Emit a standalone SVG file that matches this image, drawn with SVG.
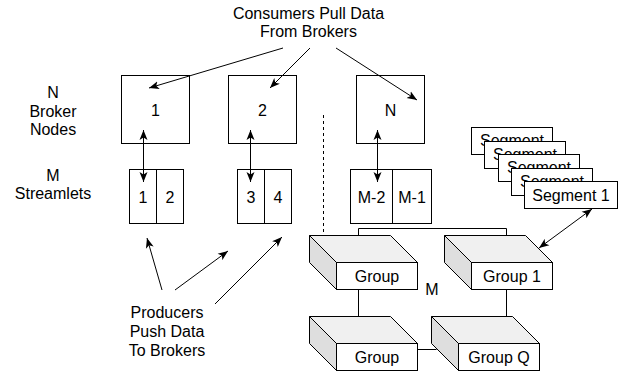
<svg xmlns="http://www.w3.org/2000/svg" width="629" height="375" viewBox="0 0 629 375">
<defs>
<marker id="arr" markerUnits="userSpaceOnUse" markerWidth="11" markerHeight="9" refX="10" refY="4.5" orient="auto-start-reverse">
<path d="M0,0.5 L10,4.5 L0,8.5 L2.5,4.5 Z" fill="#000"/>
</marker>
<style>
text{font-family:"Liberation Sans",Arial,sans-serif;font-size:16px;fill:#000;text-anchor:middle}
.box{fill:#fff;stroke:#000;stroke-width:1}
.ln{fill:none;stroke:#000;stroke-width:1}
.ar{fill:none;stroke:#000;stroke-width:1;marker-end:url(#arr)}
.dar{fill:none;stroke:#000;stroke-width:1;marker-end:url(#arr);marker-start:url(#arr)}
.top{fill:#f0f0f0;stroke:#000}
.side{fill:#dedede;stroke:#000}
</style>
</defs>
<rect width="629" height="375" fill="#fff"/>

<g id="label-consumers">
<text x="308.5" y="19">Consumers Pull Data</text>
<text x="308.5" y="37">From Brokers</text>
</g>
<g id="label-brokers">
<text x="53" y="98">N</text>
<text x="53" y="117">Broker</text>
<text x="53" y="135">Nodes</text>
</g>
<g id="label-streamlets">
<text x="53" y="181">M</text>
<text x="53" y="199">Streamlets</text>
</g>
<g id="label-producers">
<text x="167" y="318">Producers</text>
<text x="167" y="337">Push Data</text>
<text x="167" y="356">To Brokers</text>
</g>

<g id="broker-1">
<rect class="box" x="121.5" y="75.5" width="68" height="68"/>
<text x="155.5" y="116">1</text>
</g>
<g id="broker-2">
<rect class="box" x="228.5" y="75.5" width="68" height="68"/>
<text x="262.5" y="116">2</text>
</g>
<g id="broker-n">
<rect class="box" x="356.5" y="75.5" width="68" height="68"/>
<text x="390.5" y="116">N</text>
</g>

<g id="streamlets-1-2">
<rect class="box" x="129.5" y="169.5" width="54" height="54"/>
<line class="ln" x1="156.5" y1="169.5" x2="156.5" y2="223.5"/>
<text x="143" y="203">1</text>
<text x="170" y="203">2</text>
</g>
<g id="streamlets-3-4">
<rect class="box" x="237.5" y="169.5" width="54" height="54"/>
<line class="ln" x1="264.5" y1="169.5" x2="264.5" y2="223.5"/>
<text x="251" y="203">3</text>
<text x="278" y="203">4</text>
</g>
<g id="streamlets-m">
<rect class="box" x="350.5" y="169.5" width="81" height="54"/>
<line class="ln" x1="392.5" y1="169.5" x2="392.5" y2="223.5"/>
<text x="371.5" y="203">M-2</text>
<text x="412" y="203">M-1</text>
</g>

<g id="separator">
<line x1="323.5" y1="115" x2="323.5" y2="232" stroke="#000" stroke-width="1" stroke-dasharray="3,3"/>
</g>

<g id="segments">
<rect class="box" x="471.5" y="127.5" width="81" height="27"/>
<text x="512" y="146">Segment</text>
<rect class="box" x="484.5" y="141.5" width="81" height="27"/>
<text x="525" y="160">Segment</text>
<rect class="box" x="498.5" y="154.5" width="81" height="27"/>
<text x="539" y="173">Segment</text>
<rect class="box" x="511.5" y="168.5" width="81" height="27"/>
<text x="552" y="187">Segment</text>
<rect class="box" x="524.5" y="181.5" width="93" height="27"/>
<text x="571" y="201">Segment 1</text>
</g>

<g id="group-a">
<path class="top" d="M309.5,235.5 H390.5 L417.5,262.5 H336.5 Z"/>
<path class="side" d="M309.5,235.5 L336.5,262.5 V289.5 L309.5,262.5 Z"/>
<rect class="box" x="336.5" y="262.5" width="81" height="27"/>
<text x="377" y="282">Group</text>
</g>
<g id="group-1">
<path class="top" d="M444.5,235.5 H525.5 L552.5,262.5 H471.5 Z"/>
<path class="side" d="M444.5,235.5 L471.5,262.5 V289.5 L444.5,262.5 Z"/>
<rect class="box" x="471.5" y="262.5" width="81" height="27"/>
<text x="512" y="282">Group 1</text>
</g>
<g id="group-b">
<path class="top" d="M309.5,316.5 H390.5 L417.5,343.5 H336.5 Z"/>
<path class="side" d="M309.5,316.5 L336.5,343.5 V370.5 L309.5,343.5 Z"/>
<rect class="box" x="336.5" y="343.5" width="81" height="27"/>
<text x="377" y="363">Group</text>
</g>
<g id="group-q">
<path class="top" d="M431.5,316.5 H512.5 L539.5,343.5 H458.5 Z"/>
<path class="side" d="M431.5,316.5 L458.5,343.5 V370.5 L431.5,343.5 Z"/>
<rect class="box" x="458.5" y="343.5" width="81" height="27"/>
<text x="499" y="363">Group Q</text>
</g>
<g id="label-m">
<text x="432" y="295">M</text>
</g>

<g id="connectors">
<line class="ar" x1="283" y1="48" x2="149" y2="88"/>
<line class="ar" x1="310" y1="48" x2="270" y2="88"/>
<line class="ar" x1="336" y1="48" x2="417" y2="100"/>
<line class="dar" x1="143.5" y1="130" x2="143.5" y2="182"/>
<line class="dar" x1="250.5" y1="130" x2="250.5" y2="182"/>
<line class="dar" x1="377.5" y1="130" x2="377.5" y2="182"/>
<line class="ar" x1="162" y1="290" x2="147" y2="238"/>
<line class="ar" x1="175" y1="290" x2="228" y2="251"/>
<line class="ar" x1="215" y1="304" x2="282" y2="237"/>
<line class="dar" x1="592" y1="209" x2="539" y2="248"/>
<path class="ln" d="M358.5,235.5 V228.5 H506.5 V235.5"/>
<line class="ln" x1="358.5" y1="289.5" x2="358.5" y2="316.5"/>
<line class="ln" x1="506.5" y1="289.5" x2="506.5" y2="316.5"/>
<line class="ln" x1="417.5" y1="349.5" x2="436.5" y2="349.5"/>
</g>
</svg>
